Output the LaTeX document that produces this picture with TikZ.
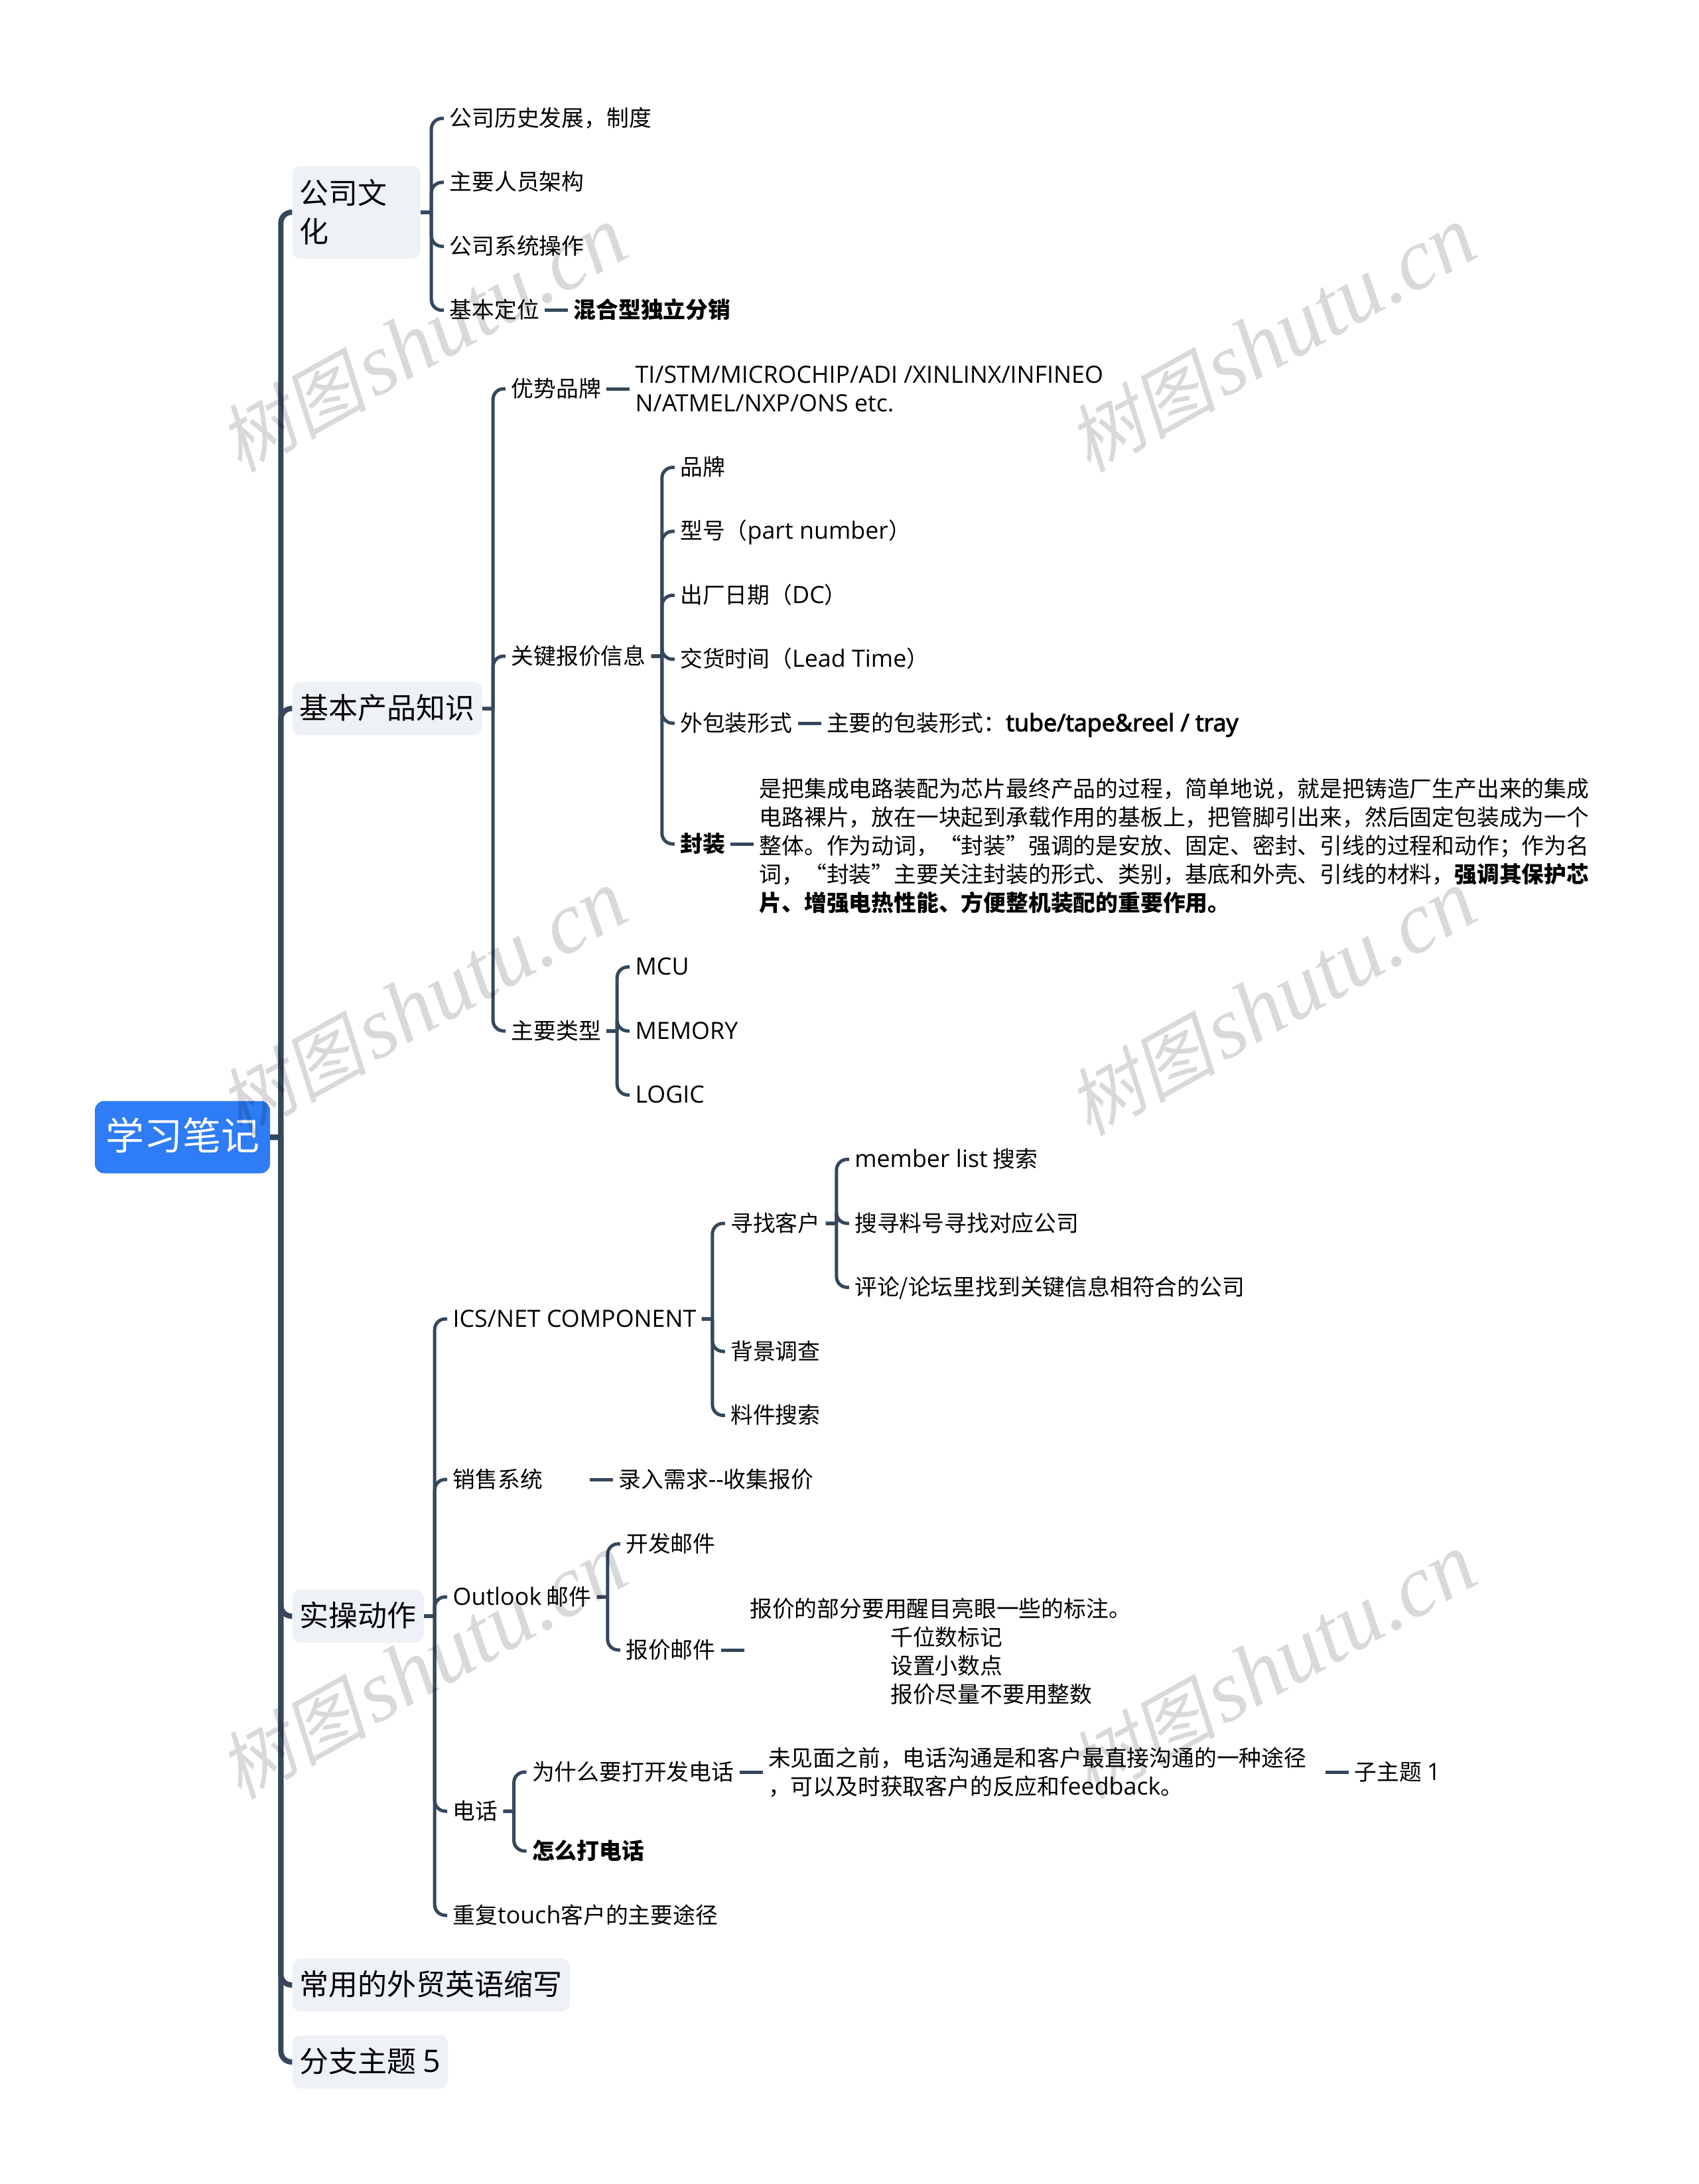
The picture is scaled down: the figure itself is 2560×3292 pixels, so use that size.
\documentclass[tikz,border=0pt]{standalone}
\usepackage{fontspec}
\setmainfont{Noto Sans CJK SC}
\newfontfamily\latinface[Scale=1.06]{Open Sans}
\newfontfamily\latinbold[Scale=1.06,FakeBold=3]{Open Sans}
\newfontfamily\markface[FakeSlant=0.2]{Noto Sans CJK SC}
\newfontfamily\markserif{Liberation Serif}
\newcommand{\lat}[1]{{\latinface #1}}
\usetikzlibrary{positioning}
\definecolor{inkline}{HTML}{34475C}
\definecolor{topicfill}{HTML}{EEF1F5}
\definecolor{rootfill}{HTML}{2E7CF6}
\tikzset{
  kid/.style 2 args = {right = 17.5pt of #1.east, anchor = west, yshift = #2},
  sib/.style 2 args = {below = #2 of #1.west, anchor = west},
  fork/.style = {to path = {(\tikztostart) -- ([xshift = -#1]\tikztotarget |- \tikztostart)
    ([xshift = -#1]\tikztotarget |- \tikztostart) [rounded corners = 8pt] |- (\tikztotarget)}},
  trunk/.style = {draw = inkline, line width = 4pt, fork = 8.5pt},
  twig/.style = {draw = inkline, line width = 2.5pt, fork = 9.5pt},
  stub/.style = {draw = inkline, line width = 2.5pt},
  para/.style = {inner xsep = 4pt, inner ysep = 0pt, align = left, text = black,
    font = \fontsize{16.9}{21.5}\selectfont},
  leaf/.style = {para, text height = 14.5pt, text depth = 2.5pt},
  heavy/.style = {font = \fontsize{16.9}{21.5}\selectfont\bfseries},
  topic/.style = {fill = topicfill, rounded corners = 6pt, inner xsep = 5.5pt, inner ysep = 0pt,
    text = black, font = \fontsize{22}{29}\selectfont, minimum height = 40pt,
    text height = 19pt, text depth = 3.5pt},
  rootbox/.style = {fill = rootfill, rounded corners = 7pt, text = white, inner sep = 0pt,
    font = \fontsize{29}{35}\selectfont, minimum width = 132pt, minimum height = 54.5pt,
    text height = 23pt, text depth = 4pt},
  watermark/.style = {rotate = 29, text = black, text opacity = 0.15, inner sep = 0pt}
}

\begin{document}
\begin{tikzpicture}[x = 0.5pt, y = -0.5pt]
  \useasboundingbox (0,0) rectangle (2560,3292);
  % root and topics
  \node [rootbox] (root) at (275,1714) {学习笔记};
  \node [topic, kid = {root}{697pt}, xshift = -1pt, text width = 85.5pt, minimum height = 70pt, text height = , text depth = , align = left] (culture) {公司文\\化};
  \node [topic, sib = {culture}{374pt}] (product) {基本产品知识};
  \node [topic, sib = {product}{684pt}] (action) {实操动作};
  \node [topic, sib = {action}{278pt}] (abbr) {常用的外贸英语缩写};
  \node [topic, sib = {abbr}{58pt}] (branchfive) {分支主题 \lat{5}};
  % company culture
  \node [leaf, kid = {culture}{70.75pt}] (history) {公司历史发展，制度};
  \node [leaf, sib = {history}{48.2pt}] (staff) {主要人员架构};
  \node [leaf, sib = {staff}{48.2pt}] (system) {公司系统操作};
  \node [leaf, sib = {system}{48.2pt}] (stance) {基本定位};
  \node [leaf, heavy, kid = {stance}{0pt}] (hybrid) {混合型独立分销};
  % product knowledge
  \node [leaf, kid = {product}{241pt}] (brands) {优势品牌};
  \node [para, kid = {brands}{0pt}] (brandlist) {\lat{TI/STM/MICROCHIP/ADI /XINLINX/INFINEO}\\\lat{N/ATMEL/NXP/ONS etc.}};
  \node [leaf, kid = {product}{39.5pt}] (quote) {关键报价信息};
  \node [leaf, kid = {quote}{142.25pt}] (maker) {品牌};
  \node [leaf, sib = {maker}{48.2pt}] (partno) {型号（\lat{part number}）};
  \node [leaf, sib = {partno}{48.2pt}] (datecode) {出厂日期（\lat{DC}）};
  \node [leaf, sib = {datecode}{48.2pt}] (leadtime) {交货时间（\lat{Lead Time}）};
  \node [leaf, sib = {leadtime}{48.2pt}] (outer) {外包装形式};
  \node [leaf, kid = {outer}{0pt}] (outerform) {主要的包装形式：{\latinbold tube/tape\&reel / tray}};
  \node [leaf, heavy, sib = {outer}{91pt}] (sealing) {封装};
  \node [para, kid = {sealing}{-1.5pt}] (sealtext) {是把集成电路装配为芯片最终产品的过程，简单地说，就是把铸造厂生产出来的集成\\
    电路裸片，放在一块起到承载作用的基板上，把管脚引出来，然后固定包装成为一个\\
    整体。作为动词，“封装”强调的是安放、固定、密封、引线的过程和动作；作为名\\
    词，“封装”主要关注封装的形式、类别，基底和外壳、引线的材料，{\bfseries 强调其保护芯}\\
    {\bfseries 片、增强电热性能、方便整机装配的重要作用。}};
  \node [leaf, sib = {quote}{282.5pt}] (kinds) {主要类型};
  \node [leaf, kid = {kinds}{48.2pt}] (mcu) {\lat{MCU}};
  \node [leaf, sib = {mcu}{48.2pt}] (memory) {\lat{MEMORY}};
  \node [leaf, sib = {memory}{48.2pt}] (logic) {\lat{LOGIC}};
  % hands-on
  \node [leaf, kid = {action}{224pt}] (ics) {\lat{ICS/NET COMPONENT}};
  \node [leaf, kid = {ics}{72pt}] (seek) {寻找客户};
  \node [leaf, kid = {seek}{48.2pt}] (memberlist) {\lat{member list} 搜索};
  \node [leaf, sib = {memberlist}{48.2pt}] (partsearch) {搜寻料号寻找对应公司};
  \node [leaf, sib = {partsearch}{48.2pt}] (forum) {评论/论坛里找到关键信息相符合的公司};
  \node [leaf, sib = {seek}{96.5pt}] (background) {背景调查};
  \node [leaf, sib = {background}{48.2pt}] (partfind) {料件搜索};
  \node [leaf, sib = {ics}{121pt}] (sales) {销售系统\hspace*{31.5pt}};
  \node [leaf, kid = {sales}{0pt}] (salesflow) {录入需求\lat{-{}-}收集报价};
  \node [leaf, sib = {sales}{88.5pt}] (outlook) {\lat{Outlook} 邮件};
  \node [leaf, kid = {outlook}{40pt}] (devmail) {开发邮件};
  \node [leaf, sib = {devmail}{80pt}] (quotemail) {报价邮件};
  \node [para, kid = {quotemail}{-1pt}] (quotetext) {报价的部分要用醒目亮眼一些的标注。\\
    \hspace*{106pt}千位数标记\\
    \hspace*{106pt}设置小数点\\
    \hspace*{106pt}报价尽量不要用整数};
  \node [leaf, sib = {outlook}{161.5pt}] (phone) {电话};
  \node [leaf, kid = {phone}{29.5pt}] (whycall) {为什么要打开发电话};
  \node [para, kid = {whycall}{0pt}, text width = 416pt] (callreason) {未见面之前，电话沟通是和客户最直接沟通的一种途径\\，可以及时获取客户的反应和\lat{feedback}。};
  \node [leaf, kid = {callreason}{0pt}] (subone) {子主题 \lat{1}};
  \node [leaf, heavy, sib = {whycall}{59.5pt}] (howcall) {怎么打电话};
  \node [leaf, sib = {phone}{78.5pt}] (retouch) {重复\lat{touch}客户的主要途径};
  % paths
  \foreach \kidname in {culture, product, action, abbr, branchfive}
    \draw [trunk] (root.east) to (\kidname.west);
  \foreach \kidname in {history, staff, system, stance}
    \draw [twig] (culture.east) to (\kidname.west);
  \foreach \kidname in {brands, quote, kinds}
    \draw [twig] (product.east) to (\kidname.west);
  \foreach \kidname in {maker, partno, datecode, leadtime, outer, sealing}
    \draw [twig] (quote.east) to (\kidname.west);
  \foreach \kidname in {mcu, memory, logic}
    \draw [twig] (kinds.east) to (\kidname.west);
  \foreach \kidname in {ics, sales, outlook, phone, retouch}
    \draw [twig] (action.east) to (\kidname.west);
  \foreach \kidname in {seek, background, partfind}
    \draw [twig] (ics.east) to (\kidname.west);
  \foreach \kidname in {memberlist, partsearch, forum}
    \draw [twig] (seek.east) to (\kidname.west);
  \foreach \kidname in {devmail, quotemail}
    \draw [twig] (outlook.east) to (\kidname.west);
  \foreach \kidname in {whycall, howcall}
    \draw [twig] (phone.east) to (\kidname.west);
  \draw [stub] (stance) -- (hybrid);
  \draw [stub] (brands) -- (brandlist);
  \draw [stub] (outer) -- (outerform);
  \draw [stub] (sealing.east) -- (sealing.east -| sealtext.west);
  \draw [stub] (sales) -- (salesflow);
  \draw [stub] (quotemail.east) -- (quotemail.east -| quotetext.west);
  \draw [stub] (whycall) -- (callreason);
  \draw [stub] (callreason) -- (subone);
  % watermarks
  \foreach \wx/\wy [count = \wi] in {637/512, 1917/512, 637/1512, 1917/1512, 637/2512, 1917/2512}
    \node [watermark] (mark\wi) at (\wx,\wy) {{\markface\fontsize{56}{60}\selectfont 树图}\hspace{5pt}{\markserif\itshape\fontsize{66}{70}\selectfont shutu.cn}};
\end{tikzpicture}
\end{document}
